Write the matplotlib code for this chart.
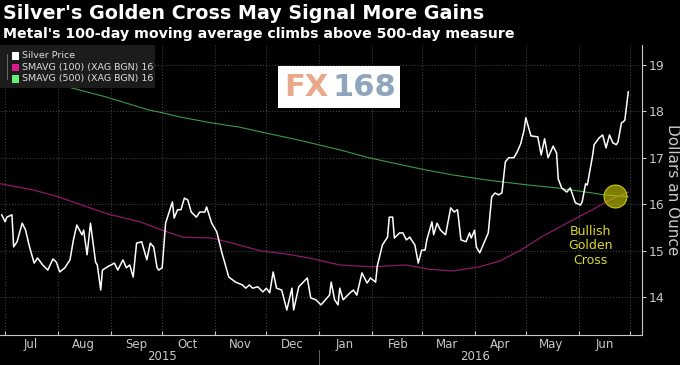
import pandas as pd
import matplotlib
matplotlib.use('Agg')
import matplotlib.pyplot as plt
import matplotlib.dates as mdates
from matplotlib.patches import Rectangle

# silver price
price_dates = ['2015-06-29', '2015-07-01', '2015-07-02', '2015-07-05', '2015-07-06', '2015-07-08',
               '2015-07-11', '2015-07-13', '2015-07-15', '2015-07-18', '2015-07-20', '2015-07-23',
               '2015-07-26', '2015-07-29', '2015-07-31', '2015-08-02', '2015-08-05', '2015-08-08',
               '2015-08-10', '2015-08-12', '2015-08-15', '2015-08-16', '2015-08-18', '2015-08-20',
               '2015-08-23', '2015-08-24', '2015-08-26', '2015-08-27', '2015-08-30', '2015-09-03',
               '2015-09-05', '2015-09-08', '2015-09-10', '2015-09-12', '2015-09-14', '2015-09-16',
               '2015-09-19', '2015-09-22', '2015-09-24', '2015-09-26', '2015-09-28', '2015-09-29',
               '2015-10-01', '2015-10-03', '2015-10-07', '2015-10-08', '2015-10-10', '2015-10-12',
               '2015-10-14', '2015-10-16', '2015-10-18', '2015-10-21', '2015-10-23', '2015-10-26',
               '2015-10-27', '2015-10-30', '2015-11-02', '2015-11-05', '2015-11-09', '2015-11-13',
               '2015-11-17', '2015-11-19', '2015-11-21', '2015-11-23', '2015-11-26', '2015-11-29',
               '2015-12-01', '2015-12-03', '2015-12-05', '2015-12-07', '2015-12-10', '2015-12-13',
               '2015-12-16', '2015-12-17', '2015-12-20', '2015-12-24', '2015-12-25', '2015-12-27',
               '2015-12-30', '2016-01-02', '2016-01-07', '2016-01-08', '2016-01-10', '2016-01-12',
               '2016-01-13', '2016-01-15', '2016-01-19', '2016-01-21', '2016-01-23', '2016-01-26',
               '2016-01-29', '2016-01-31', '2016-02-03', '2016-02-04', '2016-02-07', '2016-02-10',
               '2016-02-11', '2016-02-13', '2016-02-14', '2016-02-17', '2016-02-19', '2016-02-21',
               '2016-02-23', '2016-02-26', '2016-02-28', '2016-03-01', '2016-03-03', '2016-03-04',
               '2016-03-07', '2016-03-08', '2016-03-10', '2016-03-12', '2016-03-15', '2016-03-18',
               '2016-03-20', '2016-03-22', '2016-03-24', '2016-03-27', '2016-03-29', '2016-03-30',
               '2016-04-01', '2016-04-02', '2016-04-04', '2016-04-06', '2016-04-09', '2016-04-11',
               '2016-04-13', '2016-04-15', '2016-04-17', '2016-04-19', '2016-04-21', '2016-04-24',
               '2016-04-26', '2016-04-28', '2016-04-30', '2016-05-01', '2016-05-04', '2016-05-08',
               '2016-05-10', '2016-05-12', '2016-05-14', '2016-05-17', '2016-05-19', '2016-05-20',
               '2016-05-22', '2016-05-25', '2016-05-27', '2016-05-30', '2016-06-02', '2016-06-03',
               '2016-06-05', '2016-06-06', '2016-06-09', '2016-06-10', '2016-06-13', '2016-06-15',
               '2016-06-17', '2016-06-19', '2016-06-21', '2016-06-23', '2016-06-24', '2016-06-26',
               '2016-06-27', '2016-06-28', '2016-06-30']
price_values = [15.77, 15.62, 15.72, 15.77, 15.08, 15.19,
                15.59, 15.44, 15.12, 14.73, 14.84, 14.69,
                14.58, 14.82, 14.75, 14.54, 14.63, 14.80,
                15.23, 15.55, 15.34, 15.44, 14.91, 15.59,
                14.75, 14.69, 14.15, 14.58, 14.65, 14.73,
                14.58, 14.80, 14.63, 14.69, 14.43, 15.16,
                15.19, 14.80, 15.16, 15.08, 14.63, 14.58,
                14.63, 15.59, 16.05, 15.70, 15.88, 15.88,
                16.13, 16.09, 15.83, 15.72, 15.83, 15.83,
                15.94, 15.59, 15.40, 14.95, 14.43, 14.32,
                14.26, 14.19, 14.26, 14.19, 14.22, 14.11,
                14.19, 14.09, 14.54, 14.19, 14.15, 13.72,
                14.19, 13.72, 14.22, 14.37, 14.41, 13.98,
                13.94, 13.83, 14.04, 14.32, 13.94, 13.83,
                14.19, 13.94, 14.09, 14.15, 14.04, 14.52,
                14.30, 14.41, 14.32, 14.67, 15.12, 15.29,
                15.72, 15.72, 15.27, 15.38, 15.38, 15.23,
                15.29, 15.12, 14.73, 15.01, 15.01, 15.23,
                15.62, 15.34, 15.59, 15.44, 15.34, 15.92,
                15.83, 15.88, 15.23, 15.19, 15.38, 15.27,
                15.44, 15.08, 14.95, 15.12, 15.38, 16.16,
                16.24, 16.20, 16.24, 16.91, 17.00, 17.00,
                17.13, 17.30, 17.60, 17.86, 17.47, 17.45,
                17.06, 17.41, 17.00, 17.25, 17.10, 16.54,
                16.35, 16.26, 16.35, 16.03, 15.98, 16.05,
                16.44, 16.41, 17.02, 17.28, 17.43, 17.49,
                17.21, 17.49, 17.32, 17.28, 17.34, 17.75,
                17.77, 17.81, 18.42]

sma100_dates = ['2015-06-28', '2015-07-17', '2015-08-01', '2015-08-15', '2015-08-30', '2015-09-18',
                '2015-10-01', '2015-10-13', '2015-10-30', '2015-11-11', '2015-11-28', '2015-12-12',
                '2015-12-26', '2016-01-13', '2016-01-31', '2016-02-21', '2016-03-05', '2016-03-19',
                '2016-04-04', '2016-04-16', '2016-04-28', '2016-05-10', '2016-05-25', '2016-06-09',
                '2016-06-19', '2016-06-30']
sma100_values = [16.44, 16.31, 16.16, 15.98, 15.79, 15.62,
                 15.44, 15.29, 15.27, 15.16, 14.99, 14.93,
                 14.84, 14.69, 14.65, 14.69, 14.60, 14.56,
                 14.65, 14.78, 15.01, 15.29, 15.59, 15.88,
                 16.09, 16.26]

sma500_dates = ['2015-06-28', '2015-07-09', '2015-08-02', '2015-08-29', '2015-09-23', '2015-10-01',
                '2015-10-11', '2015-10-30', '2015-11-15', '2015-12-01', '2015-12-20', '2016-01-13',
                '2016-01-30', '2016-02-19', '2016-03-03', '2016-03-19', '2016-04-08', '2016-04-17',
                '2016-05-03', '2016-05-19', '2016-06-09', '2016-06-16', '2016-06-30']
sma500_values = [18.94, 18.78, 18.57, 18.31, 18.03, 17.97,
                 17.88, 17.75, 17.66, 17.53, 17.38, 17.17,
                 17.00, 16.84, 16.74, 16.63, 16.52, 16.48,
                 16.41, 16.35, 16.24, 16.20, 16.16]

cross_date = '2016-06-22'
cross_value = 16.18

legend_labels = ['Silver Price', 'SMAVG (100) (XAG BGN) 16', 'SMAVG (500) (XAG BGN) 16']
legend_colors = ['#ffffff', '#e0188c', '#66ee77']

price_dates = pd.to_datetime(price_dates)
sma100_dates = pd.to_datetime(sma100_dates)
sma500_dates = pd.to_datetime(sma500_dates)

grey = '#c8c8c8'

fig = plt.figure(figsize=(6.8, 3.65), dpi=100, facecolor='black')
ax = fig.add_axes([0.0, 0.082, 0.944, 0.795], facecolor='black')

ax.plot(sma500_dates, sma500_values, color='#3e9a45', lw=0.8, zorder=2)
ax.plot(sma100_dates, sma100_values, color='#8c1a6a', lw=0.9, zorder=2)
ax.plot(price_dates, price_values, color='white', lw=1.1, zorder=3)

ax.plot(pd.to_datetime(cross_date), cross_value, 'o', ms=16.5,
        mfc=(0.82, 0.82, 0.0, 0.6), mec='#c8c814', mew=0.8, zorder=4)
ax.text(pd.to_datetime('2016-06-08'), 15.1, 'Bullish\nGolden\nCross', color='#d8d828',
        fontsize=9, ha='center', va='center', linespacing=1.15, zorder=4)

ax.set_xlim(pd.Timestamp('2015-06-28'), pd.Timestamp('2016-07-08'))
ax.set_ylim(13.18, 19.43)

# month boundaries carry ticks and grid, labels sit mid-month
ax.xaxis.set_major_locator(mdates.MonthLocator(bymonthday=1))
ax.xaxis.set_major_formatter(plt.NullFormatter())
ax.xaxis.set_minor_locator(mdates.MonthLocator(bymonthday=16))
ax.xaxis.set_minor_formatter(mdates.DateFormatter('%b'))
ax.tick_params(axis='x', which='major', direction='in', length=3, color=grey)
ax.tick_params(axis='x', which='minor', length=0, labelsize=8.5, labelcolor=grey, pad=2)

ax.yaxis.tick_right()
ax.yaxis.set_label_position('right')
ax.set_yticks([14, 15, 16, 17, 18, 19])
ax.tick_params(axis='y', direction='out', length=3, color=grey, labelsize=9,
               labelcolor=grey, pad=2)
ax.set_ylabel('Dollars an Ounce', color=grey, fontsize=11, rotation=270, labelpad=11)

ax.grid(True, which='major', color='#4a4a4a', linestyle=(0, (1, 2)), lw=0.7)

for side in ['top', 'left']:
    ax.spines[side].set_visible(False)
ax.spines['right'].set_color(grey)
ax.spines['bottom'].set_color(grey)

# year labels and the separator between them
ax.text(pd.Timestamp('2015-10-01'), -0.052, '2015', transform=ax.get_xaxis_transform(),
        color=grey, fontsize=8.5, ha='center', va='top')
ax.text(pd.Timestamp('2016-04-01'), -0.052, '2016', transform=ax.get_xaxis_transform(),
        color=grey, fontsize=8.5, ha='center', va='top')
ax.plot([pd.Timestamp('2016-01-01')] * 2, [-0.05, -0.11], transform=ax.get_xaxis_transform(),
        color='#666666', lw=0.7, clip_on=False)

# titles
fig.text(0.005, 0.99, "Silver's Golden Cross May Signal More Gains", color='white',
         fontsize=13.8, fontweight='bold', ha='left', va='top')
fig.text(0.005, 0.925, "Metal's 100-day moving average climbs above 500-day measure",
         color='white', fontsize=10.2, fontweight='bold', ha='left', va='top')

# legend box
fig.patches.append(Rectangle((0.0, 1 - 88 / 365), 155 / 680, 43 / 365, transform=fig.transFigure,
                             facecolor='#1c1c1c', edgecolor='none', zorder=5))
fig.lines.append(plt.Line2D([7 / 680, 7 / 680], [1 - 54 / 365, 1 - 79 / 365],
                            transform=fig.transFigure, color='#777777', lw=0.6, zorder=6))
for i, (lab, col) in enumerate(zip(legend_labels, legend_colors)):
    yy = 1 - (56 + 11.5 * i) / 365
    fig.patches.append(Rectangle((12 / 680, yy - 3.5 / 365), 7 / 680, 7 / 365,
                                 transform=fig.transFigure, facecolor=col, edgecolor='none',
                                 zorder=6))
    fig.text(22 / 680, yy, lab, color='#dddddd', fontsize=6.8, ha='left', va='center', zorder=6)

# FX168 watermark
fig.patches.append(Rectangle((278 / 680, 1 - 108 / 365), 122 / 680, 42 / 365,
                             transform=fig.transFigure, facecolor='white', edgecolor='none',
                             zorder=5))
fig.text(284 / 680, 1 - 88 / 365, 'FX', color='#eaa88a', fontsize=22, fontweight='bold',
         ha='left', va='center', zorder=6)
fig.text(332 / 680, 1 - 88 / 365, '168', color='#8ea5bd', fontsize=22, fontweight='bold',
         ha='left', va='center', zorder=6)

fig.savefig('out.png', dpi=100, facecolor='black')
